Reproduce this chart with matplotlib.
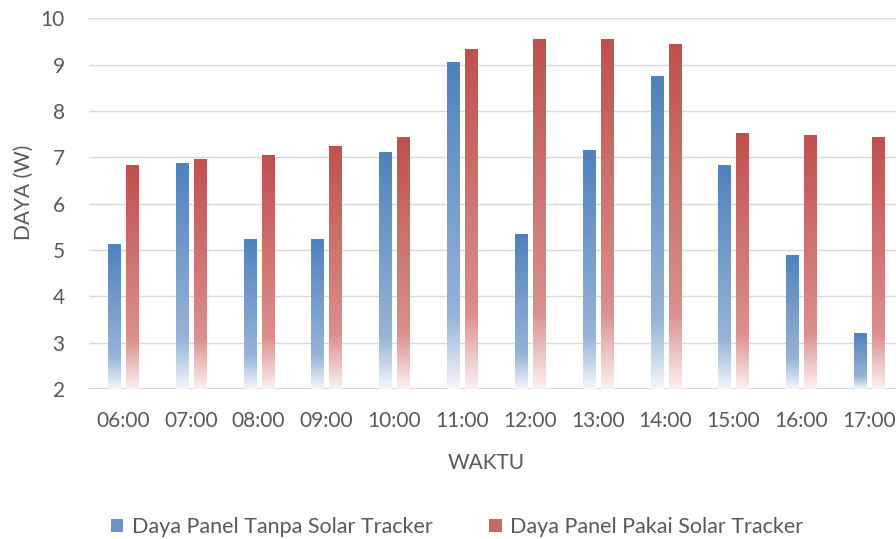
import numpy as np
import matplotlib.pyplot as plt
from matplotlib.colors import LinearSegmentedColormap
from matplotlib.patches import Patch

plt.rcParams['font.family'] = ['Lato', 'DejaVu Sans']

# Data
waktu = ['06:00', '07:00', '08:00', '09:00', '10:00', '11:00',
         '12:00', '13:00', '14:00', '15:00', '16:00', '17:00']
tanpa_tracker = [5.13, 6.87, 5.23, 5.23, 7.11, 9.05, 5.34, 7.15, 8.75, 6.83, 4.89, 3.21]
pakai_tracker = [6.83, 6.96, 7.06, 7.24, 7.43, 9.33, 9.54, 9.54, 9.44, 7.52, 7.47, 7.43]
labels = ['Daya Panel Tanpa Solar Tracker', 'Daya Panel Pakai Solar Tracker']

TEXT = '#595959'
BLUE = '#4F81BD'
RED = '#C0504D'

# gradient maps: solid at the top of each bar, fading to white at the bottom
blue_cmap = LinearSegmentedColormap.from_list(
    'blue_fade', [(0.0, '#F3F6FB'), (0.22, '#97B4D8'), (1.0, BLUE)])
red_cmap = LinearSegmentedColormap.from_list(
    'red_fade', [(0.0, '#FBF1F1'), (0.22, '#D9908E'), (1.0, RED)])

fig = plt.figure(figsize=(8.96, 5.39), dpi=100)
ax = fig.add_axes([0.0993, 0.278, 0.9085, 0.6883])

x = np.arange(len(waktu))
w = 0.177
off = 0.133
grad = np.linspace(0, 1, 256).reshape(-1, 1)

for vals, cmap, sign in [(tanpa_tracker, blue_cmap, -1), (pakai_tracker, red_cmap, 1)]:
    bars = ax.bar(x + sign * off, np.array(vals) - 2, width=w, bottom=2,
                  color='none', edgecolor='none', zorder=3)
    for b in bars:
        x0, y0 = b.get_x(), b.get_y()
        im = ax.imshow(grad, extent=[x0, x0 + b.get_width(), y0, y0 + b.get_height()],
                       origin='lower', aspect='auto', cmap=cmap, zorder=3,
                       interpolation='bilinear')
        im.set_clip_path(b)

ax.set_xlim(-0.5, len(waktu) - 0.5)
ax.set_ylim(2, 10)
ax.set_yticks(range(2, 11))
ax.set_xticks(x)
ax.set_xticklabels(waktu)

ax.grid(axis='y', color='#D9D9D9', linewidth=1.0, zorder=0)
ax.set_axisbelow(True)
for s in ax.spines.values():
    s.set_visible(False)
ax.axhline(2, color='#D0D0D0', linewidth=1.2, zorder=1)

ax.tick_params(axis='both', length=0, labelsize=15, colors=TEXT)
ax.tick_params(axis='y', pad=17.5)
ax.tick_params(axis='x', pad=15.5)

ax.set_ylabel('DAYA (W)', fontsize=15, color=TEXT)
ax.yaxis.set_label_coords(-0.068, 0.53)
ax.set_xlabel('WAKTU', fontsize=15, color=TEXT)
ax.xaxis.set_label_coords(0.488, -0.171)

handles = [Patch(facecolor='#6A93C7', edgecolor='none'),
           Patch(facecolor='#CA6866', edgecolor='none')]
fig.legend(handles, labels, loc='center', bbox_to_anchor=(457 / 896, 1 - 527 / 539),
           ncol=2, frameon=False, fontsize=15.5, labelcolor=TEXT,
           handlelength=0.6, handleheight=0.6, handletextpad=0.4, columnspacing=2.6)

fig.savefig('out.png', dpi=100)
